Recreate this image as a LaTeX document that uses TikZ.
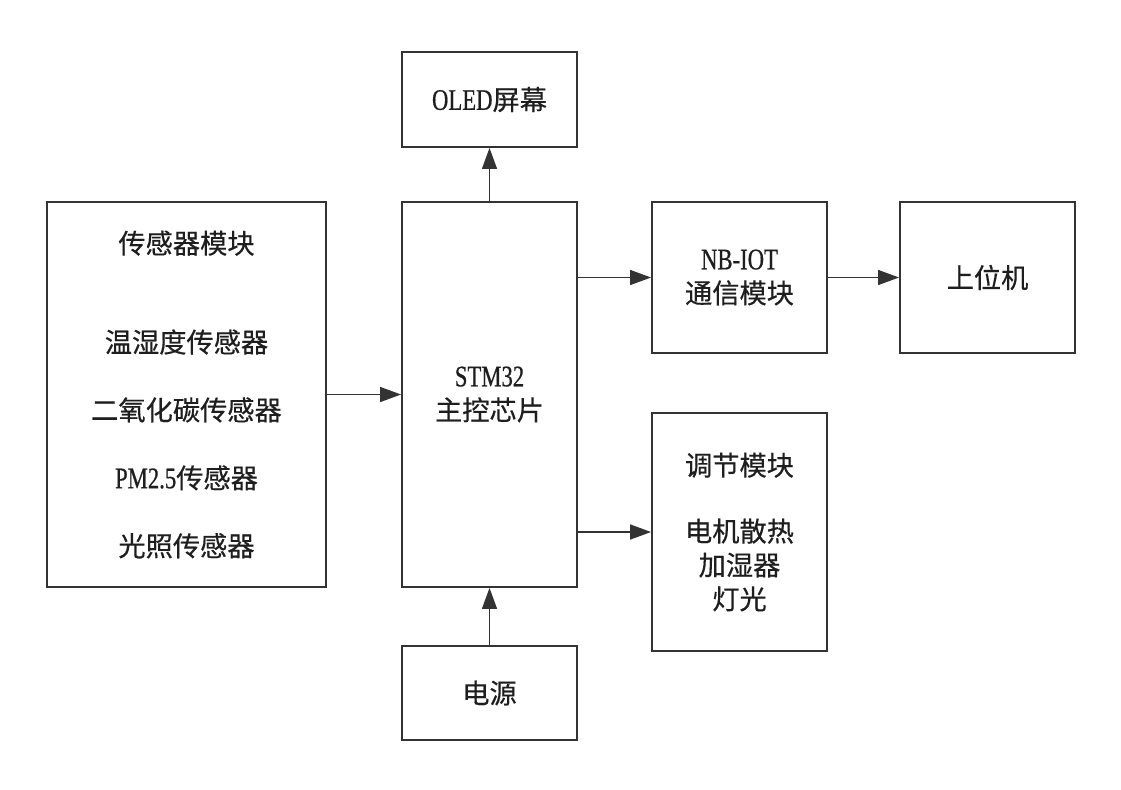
\documentclass[tikz,border=0pt]{standalone}
\usepackage{fontspec}
\setmainfont{Liberation Serif}[FakeStretch=0.76, FakeBold=0.6]
\newfontfamily\cjk{Noto Sans CJK SC}[FakeBold=0.4]
\usetikzlibrary{arrows.meta}
\newcommand{\lat}[1]{{\rmfamily\fontsize{17pt}{19.3pt}\selectfont #1}}
\definecolor{linegray}{HTML}{333333}
\definecolor{textgray}{HTML}{1E1E1E}
\begin{document}
\begin{tikzpicture}[x=0.02cm, y=-0.02cm,
    box/.style={draw=linegray, line width=1.1pt, fill=white, align=center, inner sep=0pt,
        text=textgray, font=\cjk\fontsize{15.5pt}{19.3pt}\selectfont},
    link/.style={draw=linegray, line width=0.85pt, -{Triangle[length=0.42cm, width=0.3cm]}}]
        \useasboundingbox (0,0) rectangle (1121,789);
        % blocks
        \node[box, minimum width=5.58cm, minimum height=7.7cm] (sensors) at (186.5,394.5)
            {传感器模块\\[1.3cm]温湿度传感器\\[0.68cm]二氧化碳传感器\\[0.68cm]\lat{PM2.5}传感器\\[0.68cm]光照传感器};
        \node[box, minimum width=3.5cm, minimum height=7.7cm] (stm) at (489.5,394.5) {\lat{STM32}\\主控芯片};
        \node[box, minimum width=3.5cm, minimum height=1.9cm] (oled) at (489.5,99.5) {\lat{OLED}屏幕};
        \node[box, minimum width=3.5cm, minimum height=3.02cm] (nbiot) at (739.5,277.5) {\lat{NB-IOT}\\通信模块};
        \node[box, minimum width=3.5cm, minimum height=3.02cm] (host) at (987.5,277.5) {上位机};
        \node[box, minimum width=3.5cm, minimum height=4.76cm] (adjust) at (739.5,532)
            {调节模块\\[0.64cm]电机散热\\加湿器\\灯光};
        \node[box, minimum width=3.5cm, minimum height=1.88cm] (power) at (489.5,693) {电源};
        % connections
        \draw[link] (sensors.east) -- (stm.west);
        \draw[link] (stm.north) -- (oled.south);
        \draw[link] (power.north) -- (stm.south);
        \draw[link] (stm.east |- nbiot.west) -- (nbiot.west);
        \draw[link] (nbiot.east) -- (host.west);
        \draw[link] (stm.east |- adjust.west) -- (adjust.west);
\end{tikzpicture}
\end{document}
